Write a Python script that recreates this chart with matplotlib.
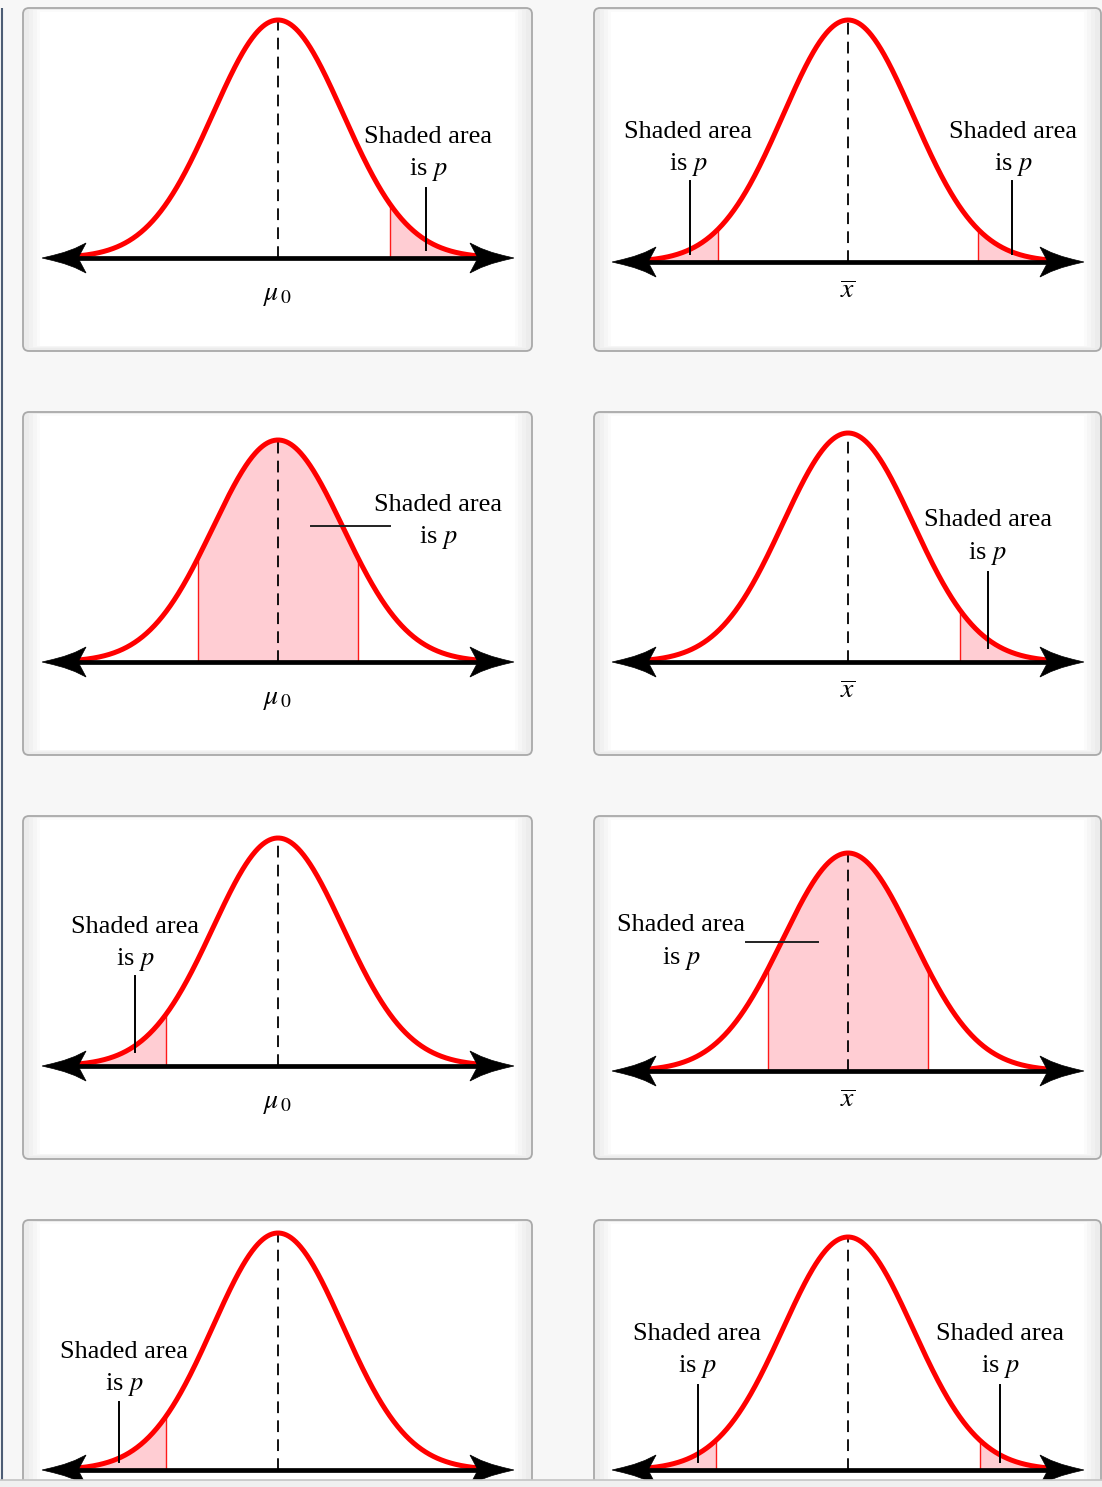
import numpy as np
import matplotlib.pyplot as plt
from matplotlib.patches import FancyBboxPatch, Rectangle, Polygon

plt.rcParams['font.family'] = ['Liberation Serif', 'DejaVu Serif']
plt.rcParams['mathtext.fontset'] = 'stix'

W, H = 1102, 1487
VISIBLE_BOTTOM = 1480

# panel layout in pixels: (left, top, right, bottom)
boxes = [(23, 8, 532, 351), (594, 8, 1101, 351),
         (23, 412, 532, 755), (594, 412, 1101, 755),
         (23, 816, 532, 1159), (594, 816, 1101, 1159),
         (23, 1220, 532, 1563), (594, 1220, 1101, 1563)]
center_px = [278, 848] * 4
axis_px = [258, 262, 662, 662, 1066, 1071, 1470, 1470]
peak_px = [20, 20, 440, 433, 838, 853, 1233, 1237]
sigma_px = 65

# chart content
mean_labels = [r'$\mu_{\,0}$', r'$\overline{x}$'] * 4
label_drop = [37, 30] * 4
tail_end = 3.05
shaded = [
    [(1.72, tail_end)],
    [(-tail_end, -2.0), (2.0, tail_end)],
    [(-1.23, 1.23)],
    [(1.72, tail_end)],
    [(-tail_end, -1.72)],
    [(-1.23, 1.23)],
    [(-tail_end, -1.72)],
    [(-tail_end, -2.03), (2.03, tail_end)],
]
callout_lines = ['Shaded area', 'is $p$']
# callouts: (text z, text h, leader kind, leader coords)
callouts = [
    [(2.31, 0.44, 'v', (2.28, 0.034, 0.294))],
    [(-2.46, 0.471, 'v', (-2.43, 0.033, 0.335)),
     (2.54, 0.471, 'v', (2.52, 0.033, 0.335))],
    [(2.46, 0.635, 'h', (0.51, 1.72, 0.613))],
    [(2.15, 0.546, 'v', (2.15, 0.061, 0.393))],
    [(-2.20, 0.539, 'v', (-2.20, 0.061, 0.395))],
    [(-2.57, 0.594, 'h', (-1.57, -0.46, 0.594))],
    [(-2.37, 0.43, 'v', (-2.45, 0.034, 0.287))],
    [(-2.32, 0.513, 'v', (-2.31, 0.034, 0.365)),
     (2.34, 0.513, 'v', (2.34, 0.034, 0.365))],
]
arrow_tip = 3.63

fig = plt.figure(figsize=(W / 100, H / 100), dpi=100)
fig.patch.set_facecolor('#f7f7f7')

# background: page, boxes, left rule
bg = fig.add_axes([0, 0, 1, 1], zorder=-1)
bg.set_xlim(0, W)
bg.set_ylim(H, 0)
bg.axis('off')
bg.plot([2, 2], [8, VISIBLE_BOTTOM], color='#4d5d75', lw=1.5, solid_capstyle='butt')
for (l, t, r, b) in boxes:
    bg.add_patch(FancyBboxPatch((l, t), r - l, b - t,
                                boxstyle='round,pad=0,rounding_size=6',
                                facecolor='#ececec', edgecolor='#a9a9a9', lw=1.3))
    # soft inner margin
    for k, c in enumerate(['#f1f1f1', '#f6f6f6', '#fbfbfb']):
        d = 6 + 4 * k
        bg.add_patch(Rectangle((l + d, t + 2), r - l - 2 * d, b - t - 5 - k,
                               facecolor=c, edgecolor='none'))
    bg.add_patch(Rectangle((l + 17, t + 4), r - l - 34, b - t - 9,
                           facecolor='white', edgecolor='none'))

z = np.linspace(-tail_end, tail_end, 500)
curve = np.exp(-z ** 2 / 2)

for i, (l, t, r, b) in enumerate(boxes):
    cx, ay = center_px[i], axis_px[i]
    hc = ay - peak_px[i]
    ax = fig.add_axes([l / W, 1 - b / H, (r - l) / W, (b - t) / H])
    ax.set_xlim((l - cx) / sigma_px, (r - cx) / sigma_px)
    ax.set_ylim((ay - b) / hc, (ay - t) / hc)
    ax.axis('off')
    ax.patch.set_alpha(0)

    def px(dx, dy):
        return dx / sigma_px, dy / hc

    for z0, z1 in shaded[i]:
        zz = np.linspace(z0, z1, 200)
        ax.fill_between(zz, 0, np.exp(-zz ** 2 / 2), color='#ffcdd3', lw=0, zorder=1)
        for edge in (z0, z1):
            if abs(edge) < tail_end:
                ax.plot([edge, edge], [0, np.exp(-edge ** 2 / 2)], color='#ff1a1a',
                        lw=1.0, zorder=2)

    ax.plot([0, 0], [0, 1], color='black', lw=1.3, dashes=(6.5, 4), zorder=2)
    ax.plot(z, curve, color='#ff0000', lw=3.6, zorder=3, solid_capstyle='round')

    # axis with double arrow
    ax.plot([-arrow_tip + px(30, 0)[0], arrow_tip - px(30, 0)[0]], [0, 0],
            color='black', lw=3.4, solid_capstyle='butt', zorder=4)
    head = [(0, 0), (-11, 2.6), (-22, 5.6), (-33, 9.6), (-44, 15), (-36, 0),
            (-44, -15), (-33, -9.6), (-22, -5.6), (-11, -2.6)]
    for sgn in (1, -1):
        pts = [(sgn * (arrow_tip + px(hx, 0)[0]), px(0, hy)[1]) for hx, hy in head]
        ax.add_patch(Polygon(pts, closed=True, facecolor='black', edgecolor='black',
                             lw=0.5, zorder=5))

    if ay + label_drop[i] + 12 < VISIBLE_BOTTOM:
        ax.text(0, -label_drop[i] / hc, mean_labels[i], ha='center', va='center',
                fontsize=20, zorder=6)

    for tz, th, kind, lc in callouts[i]:
        half = px(0, 16.5)[1]
        ax.text(tz, th + half, callout_lines[0], ha='center', va='center',
                fontsize=19, zorder=6)
        ax.text(tz, th - half, callout_lines[1], ha='center', va='center',
                fontsize=19, zorder=6)
        if kind == 'v':
            ax.plot([lc[0], lc[0]], [lc[1], lc[2]], color='black', lw=1.4, zorder=6)
        else:
            ax.plot([lc[0], lc[1]], [lc[2], lc[2]], color='#222222', lw=1.4, zorder=6)

# cut-off strip at the bottom
top = fig.add_axes([0, 0, 1, 1], zorder=10)
top.set_xlim(0, W)
top.set_ylim(H, 0)
top.axis('off')
top.patch.set_alpha(0)
top.add_patch(Rectangle((0, VISIBLE_BOTTOM), W, H - VISIBLE_BOTTOM,
                        facecolor='#f0f0f0', edgecolor='none'))
top.plot([0, W], [VISIBLE_BOTTOM, VISIBLE_BOTTOM], color='#c4c4c4', lw=1.2)

fig.savefig('out.png', dpi=100, facecolor=fig.get_facecolor())
